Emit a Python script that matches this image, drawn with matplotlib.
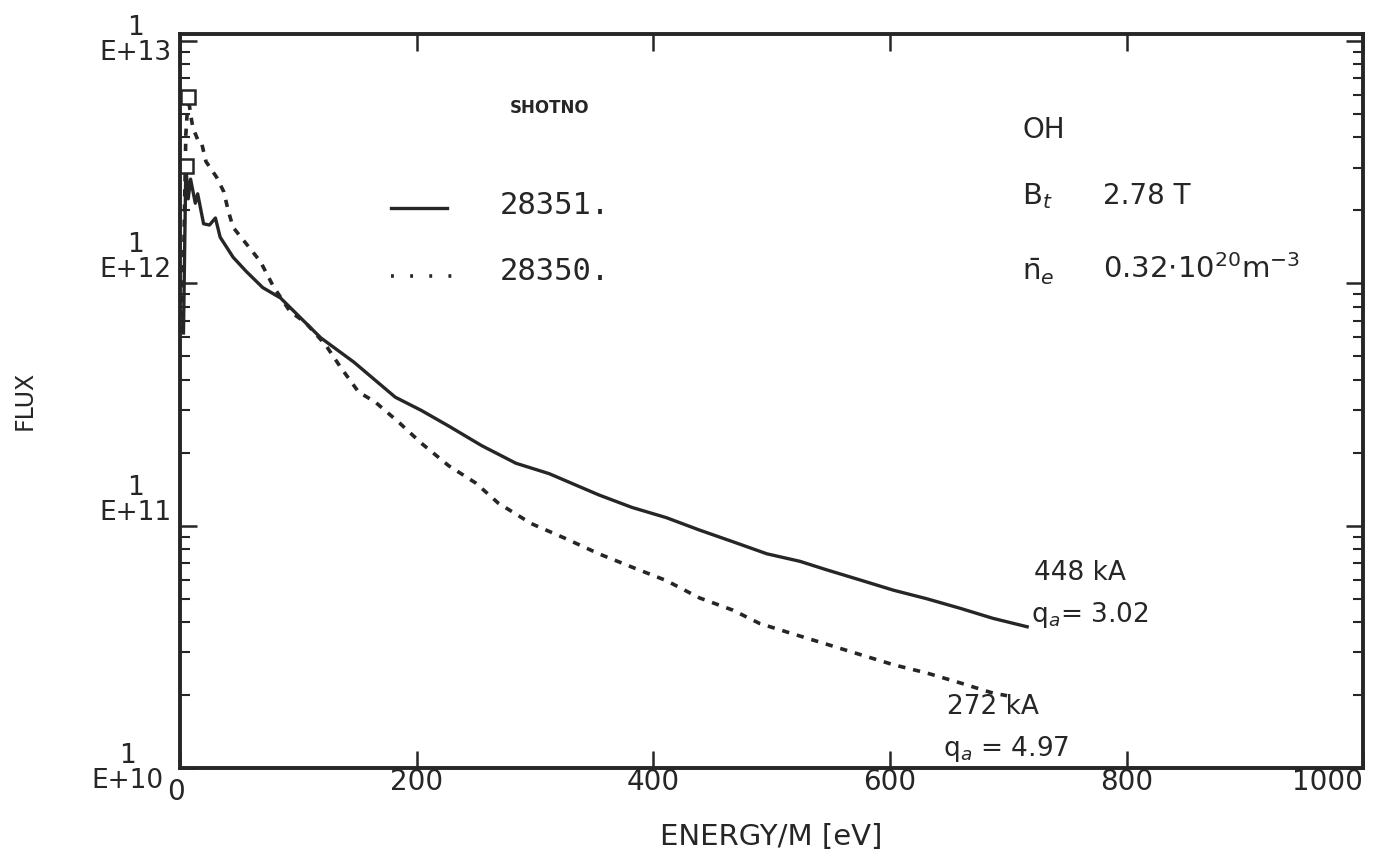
import matplotlib
matplotlib.use("Agg")
import matplotlib.pyplot as plt
import matplotlib.transforms as mtransforms
from matplotlib.ticker import LogLocator, NullFormatter

# shot 28351 (solid)
energy_28351 = [3, 5, 7, 9, 13, 15, 20, 25, 30, 34, 45, 56, 70, 85, 102, 119, 147,
                182, 204, 227, 255, 284, 312, 354, 382, 411, 439, 467, 496, 524,
                546, 575, 603, 631, 659, 687, 716]
flux_28351 = [6.24e11, 3.05e12, 2.23e12, 2.69e12, 2.14e12, 2.34e12, 1.76e12, 1.74e12,
              1.86e12, 1.55e12, 1.28e12, 1.12e12, 9.6e11, 8.7e11, 7.2e11, 5.96e11,
              4.73e11, 3.39e11, 2.99e11, 2.58e11, 2.14e11, 1.81e11, 1.64e11, 1.34e11,
              1.19e11, 1.08e11, 9.6e10, 8.6e10, 7.66e10, 7.13e10, 6.59e10, 5.97e10,
              5.42e10, 5.0e10, 4.57e10, 4.15e10, 3.83e10]

# shot 28350 (dotted)
energy_28350 = [2, 5, 7, 9, 11, 15, 18, 22, 31, 37, 41, 45, 53, 68, 79, 93, 106, 123,
                136, 151, 165, 185, 204, 227, 250, 269, 297, 326, 354, 382, 411, 439,
                467, 490, 518, 547, 575, 603, 631, 659, 687, 699]
flux_28350 = [6.24e11, 4.12e12, 5.89e12, 4.98e12, 4.37e12, 3.92e12, 3.85e12, 3.18e12,
              2.74e12, 2.39e12, 1.98e12, 1.70e12, 1.52e12, 1.23e12, 9.7e11, 7.66e11,
              6.89e11, 5.58e11, 4.49e11, 3.56e11, 3.24e11, 2.67e11, 2.19e11, 1.77e11,
              1.50e11, 1.24e11, 1.02e11, 8.85e10, 7.66e10, 6.75e10, 5.94e10, 5.04e10,
              4.49e10, 3.95e10, 3.58e10, 3.24e10, 2.94e10, 2.67e10, 2.47e10, 2.25e10,
              2.04e10, 1.99e10]

x_ticks = [0, 200, 400, 600, 800, 1000]
y_ticks = [1e10, 1e11, 1e12, 1e13]
y_tick_labels = ["1\nE+10", "1\nE+11", "1\nE+12", "1\nE+13"]

ink = "#262626"
plt.rcParams["font.family"] = "DejaVu Sans"

fig = plt.figure(figsize=(13.84, 8.66), dpi=100)
ax = fig.add_axes([0.130, 0.113, 0.855, 0.848])

ax.plot(energy_28351, flux_28351, color=ink, lw=2.4, solid_joinstyle="round")
ax.plot(energy_28350, flux_28350, color=ink, lw=2.6, linestyle=(0, (2.0, 2.2)))

# peak markers
i1 = flux_28351.index(max(flux_28351))
i2 = flux_28350.index(max(flux_28350))
ax.plot(energy_28351[i1], flux_28351[i1], marker="s", ms=10, mfc="white", mec=ink, mew=1.8)
ax.plot(energy_28350[i2], flux_28350[i2], marker="s", ms=10, mfc="white", mec=ink, mew=1.8)

ax.set_yscale("log")
ax.set_xlim(0, 1000)
ax.set_ylim(1e10, 1.07e13)

ax.yaxis.set_minor_locator(LogLocator(base=10, subs=range(2, 10)))
ax.yaxis.set_minor_formatter(NullFormatter())
ax.xaxis.set_minor_locator(matplotlib.ticker.NullLocator())

ax.tick_params(which="both", direction="in", top=True, right=True, color=ink)
ax.tick_params(which="major", length=12, width=1.8)
ax.tick_params(which="minor", length=7, width=1.5)
ax.tick_params(axis="x", pad=0)
ax.tick_params(axis="y", pad=6)
for sp in ax.spines.values():
    sp.set_linewidth(2.8)
    sp.set_color(ink)

ax.set_xticks(x_ticks)
ax.set_xticklabels([str(v) for v in x_ticks], fontsize=20, color=ink)
xl = ax.get_xticklabels()
xl[-1].set_ha("right")
xl[0].set_transform(xl[0].get_transform()
                    + mtransforms.ScaledTranslation(-4 / 100, -10 / 100, fig.dpi_scale_trans))

ax.set_yticks(y_ticks)
ax.set_yticklabels(y_tick_labels, fontsize=19, color=ink, multialignment="center",
                   linespacing=0.95)
yl = ax.get_yticklabels()
yl[0].set_va("center")
yl[0].set_transform(yl[0].get_transform()
                    + mtransforms.ScaledTranslation(-8 / 100, 0, fig.dpi_scale_trans))
yl[1].set_va("bottom")
yl[2].set_va("bottom")
yl[3].set_va("center")

ax.set_xlabel("ENERGY/M [eV]", fontsize=21, color=ink, labelpad=12)
fig.text(25 / 1384, 1 - 400 / 866, "FLUX", rotation=90, fontsize=17, color=ink,
         ha="center", va="center")

# legend block
ax.text(279, 5.3e12, "SHOTNO", fontsize=12, fontweight="bold", color=ink, va="center")
ax.plot([178, 226], [2.05e12, 2.05e12], color=ink, lw=2.4)
ax.text(270, 2.1e12, "28351.", fontsize=22, family="DejaVu Sans Mono", color=ink,
        va="center")
ax.plot([178, 233], [1.07e12, 1.07e12], color=ink, lw=2.6, linestyle=(0, (0.8, 4.5)))
ax.text(270, 1.12e12, "28350.", fontsize=22, family="DejaVu Sans Mono", color=ink,
        va="center")

# discharge parameters
ax.text(712, 4.3e12, "OH", fontsize=20, color=ink, va="center")
ax.text(712, 2.3e12, r"B$_t$", fontsize=21, color=ink, va="center")
ax.text(780, 2.3e12, "2.78 T", fontsize=20, color=ink, va="center")
ax.text(712, 1.12e12, r"$\bar{\mathrm{n}}_e$", fontsize=21, color=ink, va="center")
ax.text(780, 1.14e12, r"0.32$\cdot$10$^{20}$m$^{-3}$", fontsize=21, color=ink,
        va="center")

# end labels
ax.text(722, 6.4e10, "448 kA", fontsize=19, color=ink, va="center")
ax.text(719, 4.3e10, r"q$_a$= 3.02", fontsize=19, color=ink, va="center")
ax.text(648, 1.78e10, "272 kA", fontsize=19, color=ink, va="center")
ax.text(645, 1.2e10, r"q$_a$ = 4.97", fontsize=19, color=ink, va="center")

fig.savefig("out.png", dpi=100)
